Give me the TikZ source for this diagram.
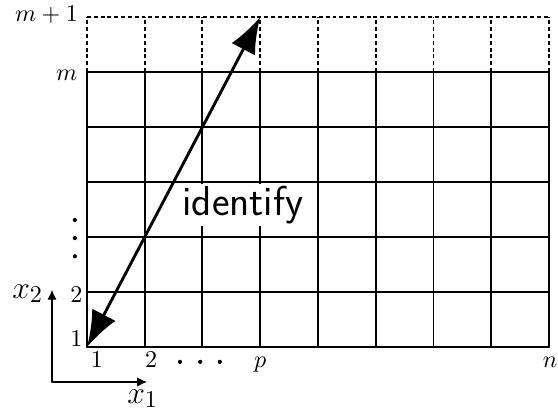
\documentclass[tikz,border=0pt]{standalone}
\usepackage{tikz}
\usetikzlibrary{arrows.meta,positioning}
\tikzset{
  >={Latex[length=4.5pt,width=4.2pt]},
  every picture/.style={line cap=round, line join=round},
  gridline/.style={line width=0.9pt},
  ghostline/.style={line width=0.9pt, line cap=butt, dash pattern=on 1.8pt off 1.3pt},
  lbl/.style={font=\fontsize{10.8}{13}\selectfont, inner sep=0pt},
  axislbl/.style={font=\fontsize{15.5}{18}\selectfont, inner sep=0pt},
}

\begin{document}
\begin{tikzpicture}[x=26.25pt, y=25pt,
  bigarrow/.style={line width=1.3pt, {Latex[length=16.5pt,width=12pt]}-{Latex[length=16.5pt,width=12pt]}},
  tag/.style={font=\fontsize{19}{22}\selectfont\sffamily, fill=white, inner sep=1pt},
  dot/.style={fill=black},
]
\useasboundingbox (-1.506,-1.2) rectangle (8.156,6.309);
% extra row on top, dotted
\foreach \i in {0,...,8} \draw[ghostline] (\i,5) -- (\i,6);
\draw[ghostline] (0,6) -- (8,6);
% the grid
\foreach \i in {0,...,8} \draw[gridline] (\i,0) -- (\i,5);
\foreach \j in {0,...,5} \draw[gridline] (0,\j) -- (8,\j);
% identification arrow
\coordinate (corner) at (0,0);
\coordinate (toprow) at (3,6);
\node[tag] (ident) at (2.70,2.58) {identify};
\draw[bigarrow] (corner) -- (toprow);
% row labels
\node[lbl, anchor=base east] (rowtop) at (-0.15,5.91) {$m+1$};
\node[lbl, anchor=base east] (rowm) at (-0.16,4.84) {$m$};
\node[lbl, anchor=base east] (rowtwo) at (-0.07,0.80) {$2$};
\node[lbl, anchor=base east] (rowone) at (-0.07,0.0) {$1$};
\foreach \y in {2.31,1.98,1.65} \fill[dot] (-0.21,\y) circle (0.95pt);
% column labels
\node[lbl, anchor=base] (colone) at (0.17,-0.364) {$1$};
\node[lbl, anchor=base] (coltwo) at (1.11,-0.364) {$2$};
\node[lbl, anchor=base] (colp) at (3.0,-0.364) {$p$};
\node[lbl, anchor=base east] (coln) at (8.15,-0.364) {$n$};
\foreach \x in {1.61,1.96,2.30} \fill[dot] (\x,-0.27) circle (0.95pt);
% axes
\coordinate (axo) at (-0.606,-0.636);
\coordinate (axx) at (1.04,-0.636);
\coordinate (axy) at (-0.606,1.04);
\draw[line width=0.5pt, ->] (axo) -- (axx);
\draw[line width=0.5pt, ->] (axo) -- (axy);
\node[axislbl, anchor=base west] (xone) at (0.69,-1.02) {$x_1$};
\node[axislbl, anchor=base west] (xtwo) at (-1.30,0.89) {$x_2$};
\end{tikzpicture}
\end{document}
